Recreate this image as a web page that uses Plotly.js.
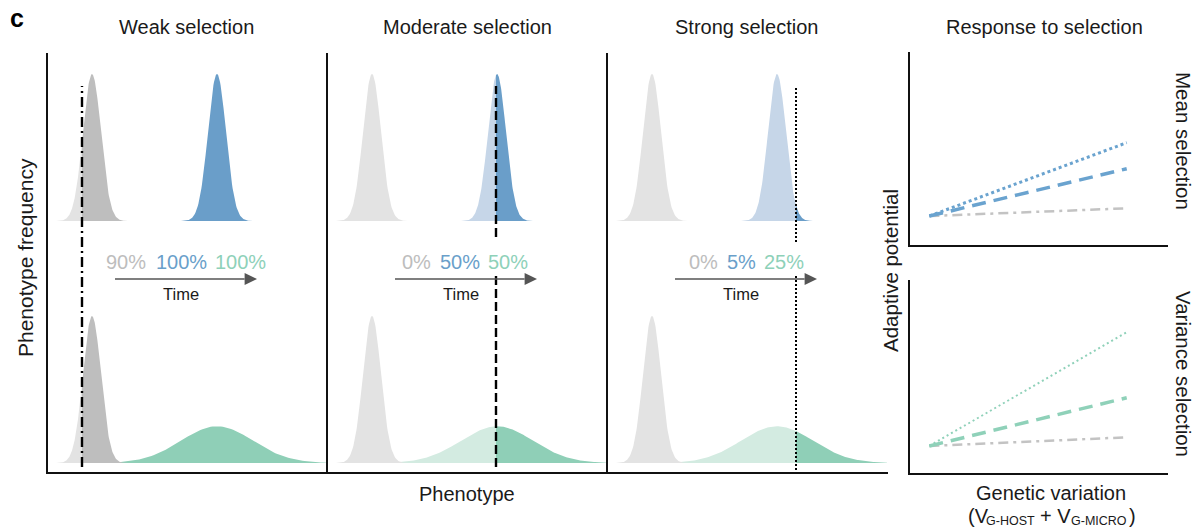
<!DOCTYPE html>
<html>
<head>
<meta charset="utf-8">
<script src="https://cdn.plot.ly/plotly-3.0.1.min.js"></script>
<style>html,body{margin:0;padding:0;background:#fff;}#chart{width:1199px;height:529px;}</style>
</head>
<body>
<div id="chart"></div>
<script>
// ---------- data ----------
const panelTitles = ['Weak selection', 'Moderate selection', 'Strong selection'];
const hostMean = 2.25;          // phenotype mean, host-only (grey) distribution
const microMean = 8.5;          // phenotype mean, host+microbiome distribution
const hostSd = 0.45;
const microSdMeanSel = 0.45;    // top row (mean selection)
const microSdVarSel = 1.8;      // bottom row (variance selection)
const hostPeak = 1.0;
const microPeakMeanSel = 1.0;
const microPeakVarSel = 0.25;
const thresholds = [1.75, 8.45, 9.45];      // selection threshold per panel
const survivalHost = [90, 0, 0];
const survivalMicroMean = [100, 50, 5];
const survivalMicroVar = [100, 50, 25];

// Response to selection (right)
const geneticVariation = [0.75, 8.4];
const meanSelWeak = [1.5, 1.9];
const meanSelModerate = [1.5, 3.95];
const meanSelStrong = [1.5, 5.3];
const varSelWeak = [1.4, 1.85];
const varSelModerate = [1.4, 3.9];
const varSelStrong = [1.4, 7.3];

// ---------- styles ----------
const W = 1199, H = 529;
const px = x => x / W, py = y => 1 - y / H;
const FONT = 'Liberation Sans, Arial, sans-serif';
const TXT = '#1a1a1a';
const C = {
  greyDark: '#bebebe', greyLight: '#e3e3e3',
  blueDark: '#6a9ec9', blueLight: '#c6d6e8',
  greenDark: '#8fcfb7', greenLight: '#d3ebe1',
  greyText: '#bdbdbd', blueText: '#6a9fca', greenText: '#8ed1b9',
  lineGrey: '#c3c3c3', lineBlue: '#6aa3cf', lineGreen: '#8fd1b9'
};
const thrDash = ['10px,4px,2px,4px', '9px,4px', '2px,2px'];
const thrSegments = [
  [[86, 467]],
  [[86, 237], [272, 467]],
  [[86, 242], [276, 470]]
];
const pctPos = [[5.05, 6.72, 8.3], [5.3, 6.65, 7.95], [5.65, 6.7, 7.75]];

function curve(mean, sd, peak, from, to) {
  const xs = [], ys = [];
  const n = 120;
  for (let i = 0; i <= n; i++) {
    const x = from + (to - from) * i / n;
    xs.push(x);
    ys.push(peak * Math.exp(-0.5 * Math.pow((x - mean) / sd, 2)));
  }
  return {xs, ys};
}

const traces = [];
function addDist(xa, ya, mean, sd, peak, thr, light, dark) {
  const lo = Math.max(0, mean - 4 * sd), hi = Math.min(14, mean + 4 * sd);
  const parts = [];
  if (thr > lo) parts.push([lo, Math.min(thr, hi), light]);
  if (thr < hi) parts.push([Math.max(thr, lo), hi, dark]);
  parts.forEach(p => {
    const c = curve(mean, sd, peak, p[0], p[1]);
    traces.push({
      type: 'scatter', mode: 'lines', x: c.xs, y: c.ys, xaxis: xa, yaxis: ya,
      fill: 'tozeroy', fillcolor: p[2], line: {width: 0, color: p[2]},
      hoverinfo: 'skip', showlegend: false
    });
  });
}

const xAxes = ['x', 'x2', 'x3'];
for (let i = 0; i < 3; i++) {
  const xa = xAxes[i], thr = thresholds[i];
  addDist(xa, 'y', microMean, microSdMeanSel, microPeakMeanSel, thr, C.blueLight, C.blueDark);
  addDist(xa, 'y', hostMean, hostSd, hostPeak, thr, C.greyLight, C.greyDark);
  addDist(xa, 'y2', microMean, microSdVarSel, microPeakVarSel, thr, C.greenLight, C.greenDark);
  addDist(xa, 'y2', hostMean, hostSd, hostPeak, thr, C.greyLight, C.greyDark);
}

function addLine(xa, ya, y, color, width, dash) {
  traces.push({type: 'scatter', mode: 'lines', x: geneticVariation, y: y, xaxis: xa, yaxis: ya,
    line: {color: color, width: width, dash: dash}, hoverinfo: 'skip', showlegend: false});
}
addLine('x4', 'y3', meanSelWeak, C.lineGrey, 2.5, '10px,5px,3px,5px');
addLine('x4', 'y3', meanSelModerate, C.lineBlue, 3.5, '14px,8px');
addLine('x4', 'y3', meanSelStrong, C.lineBlue, 3, 'dot');
addLine('x5', 'y4', varSelWeak, C.lineGrey, 2.5, '10px,5px,3px,5px');
addLine('x5', 'y4', varSelModerate, C.lineGreen, 3.5, '14px,8px');
addLine('x5', 'y4', varSelStrong, C.lineGreen, 2, '2px,3px');

// ---------- layout ----------
const hidden = {showgrid: false, zeroline: false, showticklabels: false, ticks: '', showline: false, fixedrange: true};
const layout = {
  width: W, height: H, margin: {l: 0, r: 0, t: 0, b: 0},
  paper_bgcolor: '#fff', plot_bgcolor: 'rgba(0,0,0,0)',
  showlegend: false,
  font: {family: FONT, color: TXT},
  xaxis:  Object.assign({}, hidden, {domain: [px(47), px(327)], range: [0, 14], anchor: 'y2'}),
  xaxis2: Object.assign({}, hidden, {domain: [px(327), px(607)], range: [0, 14], anchor: 'y2'}),
  xaxis3: Object.assign({}, hidden, {domain: [px(607), px(887)], range: [0, 14], anchor: 'y2'}),
  yaxis:  Object.assign({}, hidden, {domain: [py(221), py(73)], range: [0, 1.007], anchor: 'x'}),
  yaxis2: Object.assign({}, hidden, {domain: [py(463), py(315)], range: [0, 1.007], anchor: 'x'}),
  xaxis4: Object.assign({}, hidden, {domain: [px(910), px(1168)], range: [0, 10], anchor: 'y3',
           showline: true, linecolor: '#111', linewidth: 2}),
  yaxis3: Object.assign({}, hidden, {domain: [py(245), py(52)], range: [0, 10], anchor: 'x4',
           showline: true, linecolor: '#111', linewidth: 2}),
  xaxis5: Object.assign({}, hidden, {domain: [px(910), px(1168)], range: [0, 10], anchor: 'y4',
           showline: true, linecolor: '#111', linewidth: 2}),
  yaxis4: Object.assign({}, hidden, {domain: [py(473), py(280)], range: [0, 10], anchor: 'x5',
           showline: true, linecolor: '#111', linewidth: 2}),
  shapes: [],
  annotations: []
};

const frame = {type: 'line', xref: 'paper', yref: 'paper', line: {color: '#111', width: 2}};
layout.shapes.push(Object.assign({}, frame, {x0: px(47), x1: px(47), y0: py(474), y1: py(53)}));
layout.shapes.push(Object.assign({}, frame, {x0: px(46), x1: px(888), y0: py(473), y1: py(473)}));
layout.shapes.push(Object.assign({}, frame, {x0: px(327), x1: px(327), y0: py(473), y1: py(53)}));
layout.shapes.push(Object.assign({}, frame, {x0: px(607), x1: px(607), y0: py(473), y1: py(53)}));

for (let i = 0; i < 3; i++) {
  thrSegments[i].forEach(seg => {
    layout.shapes.push({type: 'line', xref: xAxes[i], yref: 'paper', x0: thresholds[i], x1: thresholds[i],
      y0: py(seg[1]), y1: py(seg[0]), line: {color: '#000', width: i === 2 ? 2 : 2.4, dash: thrDash[i]}});
  });
}

const arrowFrom = 3.4, arrowTo = 10.5, headLen = 0.62, arrowY = 279;
for (let i = 0; i < 3; i++) {
  const xa = xAxes[i];
  layout.shapes.push({type: 'line', xref: xa, yref: 'paper', x0: arrowFrom, x1: arrowTo - headLen,
    y0: py(arrowY), y1: py(arrowY), line: {color: '#555', width: 1.6}});
  layout.shapes.push({type: 'path', xref: xa, yref: 'paper',
    path: 'M' + (arrowTo - headLen) + ',' + py(arrowY - 6) + ' L' + arrowTo + ',' + py(arrowY) +
          ' L' + (arrowTo - headLen) + ',' + py(arrowY + 6) + ' Z',
    fillcolor: '#555', line: {width: 0}});
}

const ann = (o) => layout.annotations.push(Object.assign({showarrow: false, xref: 'paper', yref: 'paper',
  xanchor: 'center', yanchor: 'middle', font: {family: FONT, size: 20, color: TXT}}, o));

ann({text: '<b>c</b>', x: px(17), y: py(18), font: {family: FONT, size: 25, color: '#000'}});
const titleX = [186, 467, 746];
panelTitles.forEach((t, i) => ann({text: t, x: px(titleX[i]), y: py(27)}));
ann({text: 'Response to selection', x: px(1044), y: py(27)});

for (let i = 0; i < 3; i++) {
  const xa = xAxes[i], p = pctPos[i];
  ann({xref: xa, x: p[0], xanchor: 'right', y: py(262), text: survivalHost[i] + '%',
       font: {family: FONT, size: 20, color: C.greyText}});
  ann({xref: xa, x: p[1], xanchor: 'center', y: py(262), text: survivalMicroMean[i] + '%',
       font: {family: FONT, size: 20, color: C.blueText}});
  ann({xref: xa, x: p[2], xanchor: 'left', y: py(262), text: survivalMicroVar[i] + '%',
       font: {family: FONT, size: 20, color: C.greenText}});
  ann({xref: xa, x: 6.7, y: py(294), text: 'Time', font: {family: FONT, size: 16.5, color: TXT}});
}

ann({text: 'Phenotype frequency', x: px(25), y: py(258), textangle: -90, font: {family: FONT, size: 21, color: TXT}});
ann({text: 'Phenotype', x: px(467), y: py(494), font: {family: FONT, size: 20, color: TXT}});
ann({text: 'Adaptive potential', x: px(890), y: py(271), textangle: -90, font: {family: FONT, size: 20.5, color: TXT}});
ann({text: 'Mean selection', x: px(1184), y: py(141), textangle: 90, font: {family: FONT, size: 20.5, color: TXT}});
ann({text: 'Variance selection', x: px(1184), y: py(374), textangle: 90, font: {family: FONT, size: 20.5, color: TXT}});
ann({text: 'Genetic variation', x: px(1051), y: py(493), font: {family: FONT, size: 20, color: TXT}});
// (V_G-HOST + V_G-MICRO), assembled from pieces
ann({text: '(V', x: px(991), xanchor: 'right', y: py(516), font: {family: FONT, size: 20, color: TXT}});
ann({text: 'G-HOST', x: px(984), xanchor: 'left', y: py(521), font: {family: FONT, size: 12.5, color: TXT}});
ann({text: '+ V', x: px(1038), xanchor: 'left', y: py(516), font: {family: FONT, size: 20, color: TXT}});
ann({text: 'G-MICRO', x: px(1069), xanchor: 'left', y: py(521), font: {family: FONT, size: 12.5, color: TXT}});
ann({text: ')', x: px(1127), xanchor: 'left', y: py(516), font: {family: FONT, size: 20, color: TXT}});

Plotly.newPlot('chart', traces, layout, {staticPlot: true, displayModeBar: false});
</script>
</body>
</html>
